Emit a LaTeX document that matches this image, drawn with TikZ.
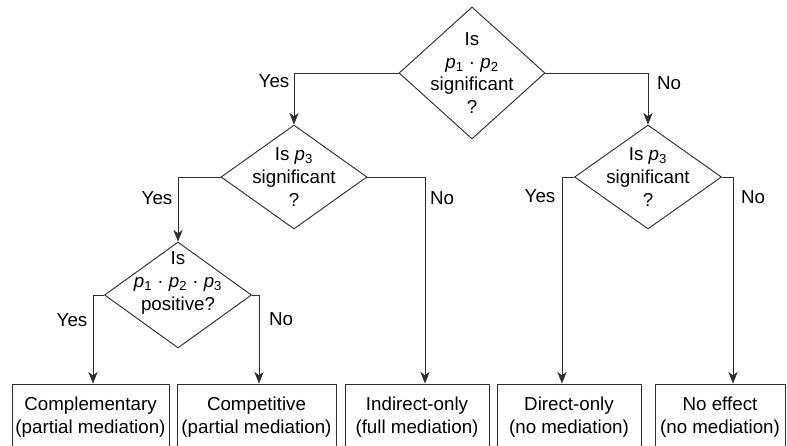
\documentclass[tikz,border=0pt]{standalone}
\usepackage{fontspec}
\setmainfont{Liberation Sans}
\usetikzlibrary{shapes.geometric,arrows.meta}
\definecolor{lngray}{HTML}{2E2E2E}
\newcommand{\pxu}{0.03cm}
\newcommand{\pv}[1]{\textit{p}\textsubscript{#1}}

\begin{document}
\begin{tikzpicture}[x=0.03cm, y=-0.03cm, font=\fontsize{16}{19.5}\selectfont,
  quest/.style={diamond, draw=lngray, line width=0.8pt, inner sep=0pt, minimum width=146*\pxu, minimum height=104*\pxu},
  qtext/.style={align=center, inner sep=0pt},
  outcome/.style={draw=lngray, line width=0.8pt, align=center, inner sep=1pt, minimum height=66*\pxu},
  flow/.style={draw=lngray, line width=0.8pt, -{Stealth[length=10pt, width=8pt, inset=3pt]}},
  ans/.style={inner sep=0pt}]
  \useasboundingbox (0,0) rectangle (787,445);
  \clip (0,0) rectangle (787,445);

  % questions
  \node[quest, minimum height=132*\pxu] (d1) at (472,73) {};
  \node[qtext] (t1) at (d1) {Is\\\pv{1} · \pv{2}\\significant\\?};
  \node[quest] (d2) at (294,177) {};
  \node[qtext] (t2) at (d2) {Is \pv{3}\\significant\\?};
  \node[quest, minimum width=147*\pxu, minimum height=106*\pxu] (d3) at (178,295) {};
  \node[qtext] (t3) at ([yshift=12*\pxu]d3) {Is\\\pv{1} · \pv{2} · \pv{3}\\positive?};
  \node[quest, minimum width=147*\pxu] (d4) at (648,177) {};
  \node[qtext] (t4) at (d4) {Is \pv{3}\\significant\\?};

  % outcomes
  \node[outcome, minimum width=157*\pxu] (b1) at (90.5,417) {Complementary\\(partial mediation)};
  \node[outcome, minimum width=159*\pxu] (b2) at (256.5,417) {Competitive\\(partial mediation)};
  \node[outcome, minimum width=144*\pxu] (b3) at (417,417) {Indirect-only\\(full mediation)};
  \node[outcome, minimum width=144*\pxu] (b4) at (569,417) {Direct-only\\(no mediation)};
  \node[outcome, minimum width=130*\pxu] (b5) at (720,417) {No effect\\(no mediation)};

  \draw[flow] (d1.west) -| (d2.north);
  \draw[flow] (d1.east) -| (d4.north);
  \draw[flow] (d2.west) -| (d3.north);
  \draw[flow] (d2.east) -| ([xshift=8*\pxu]b3.north);
  \draw[flow] (d3.west) -| ([xshift=2.5*\pxu]b1.north);
  \draw[flow] (d3.east) -| ([xshift=2.5*\pxu]b2.north);
  \draw[flow] (d4.west) -| ([xshift=-7*\pxu]b4.north);
  \draw[flow] (d4.east) -| ([xshift=13*\pxu]b5.north);

  % answers
  \node[ans] (y1) at (274,81) {Yes};
  \node[ans] (n1) at (669,83) {No};
  \node[ans] (y2) at (157,198) {Yes};
  \node[ans] (n2) at (442,198) {No};
  \node[ans] (y3) at (72,320) {Yes};
  \node[ans] (n3) at (281,319) {No};
  \node[ans] (y4) at (540,196) {Yes};
  \node[ans] (n4) at (753,197) {No};
\end{tikzpicture}
\end{document}
